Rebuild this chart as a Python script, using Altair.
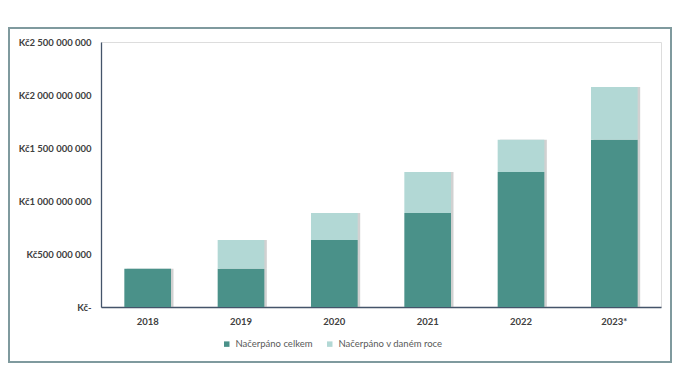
import altair as alt
import pandas as pd

years = ["2018", "2019", "2020", "2021", "2022", "2023*"]
celkem = [360e6, 360e6, 632e6, 887e6, 1274e6, 1578e6]
v_roce = [0, 272e6, 255e6, 387e6, 304e6, 497e6]
series = ["Načerpáno celkem", "Načerpáno v daném roce"]
colors = ["#4A9189", "#B2D8D5"]
y_ticks = [0, 500e6, 1000e6, 1500e6, 2000e6, 2500e6]

rows = []
for i, y in enumerate(years):
    rows.append({"rok": y, "serie": series[0], "hodnota": celkem[i], "poradi": 0})
    rows.append({"rok": y, "serie": series[1], "hodnota": v_roce[i], "poradi": 1})
df = pd.DataFrame(rows)

FONT = "Lato"

label_expr = ("datum.value == 0 ? 'Kč-' : 'Kč' + replace(format(datum.value, ',d'), /,/g, ' ')")

x_enc = alt.X("rok:N", sort=years, title=None,
              scale=alt.Scale(paddingInner=0.5, paddingOuter=0.25),
              axis=alt.Axis(labelAngle=0, ticks=False, domainColor="#44546A",
                            domainWidth=1.3, labelFont=FONT, labelFontWeight="bold",
                            labelFontSize=9.5, labelColor="#404040", labelPadding=9))
y_enc = alt.Y("hodnota:Q", stack="zero", title=None,
              scale=alt.Scale(domain=[0, 2.5e9], nice=False),
              axis=alt.Axis(values=y_ticks, labelExpr=label_expr, grid=False, ticks=False,
                            domainColor="#44546A", domainWidth=1.3, labelFont=FONT,
                            labelFontWeight="bold", labelFontSize=9.5, labelColor="#404040",
                            labelPadding=10))

shadow = alt.Chart(df).mark_bar(color="#9A9A9A", opacity=0.45).encode(
    x=x_enc, y=y_enc, xOffset=alt.value(2.5), order=alt.Order("poradi:Q"),
)

bars = alt.Chart(df).mark_bar().encode(
    x=x_enc,
    y=y_enc,
    color=alt.Color("serie:N", sort=series,
                    scale=alt.Scale(domain=series, range=colors),
                    legend=alt.Legend(title=None, orient="none", direction="horizontal",
                                      legendX=121, legendY=297, symbolType="square",
                                      symbolSize=30, symbolStrokeWidth=0,
                                      labelFont=FONT, labelFontSize=9.5,
                                      labelColor="#595959", columnPadding=12,
                                      labelOffset=4)),
    order=alt.Order("poradi:Q"),
)

frame = alt.Chart(pd.DataFrame({"a": [0]})).mark_rect(
    fill=None, stroke="#7F9A9E", strokeWidth=2
).encode(
    x=alt.value(-92), x2=alt.value(570), y=alt.value(-14), y2=alt.value(320)
)

chart = alt.layer(frame, shadow, bars).properties(
    width=560, height=265,
    autosize=alt.AutoSizeParams(type="none"),
    padding={"left": 93, "right": 11, "top": 34, "bottom": 67},
).configure_view(stroke=None).configure(background="white")

chart.save("out.html", embed_options={"renderer": "svg", "actions": False})
